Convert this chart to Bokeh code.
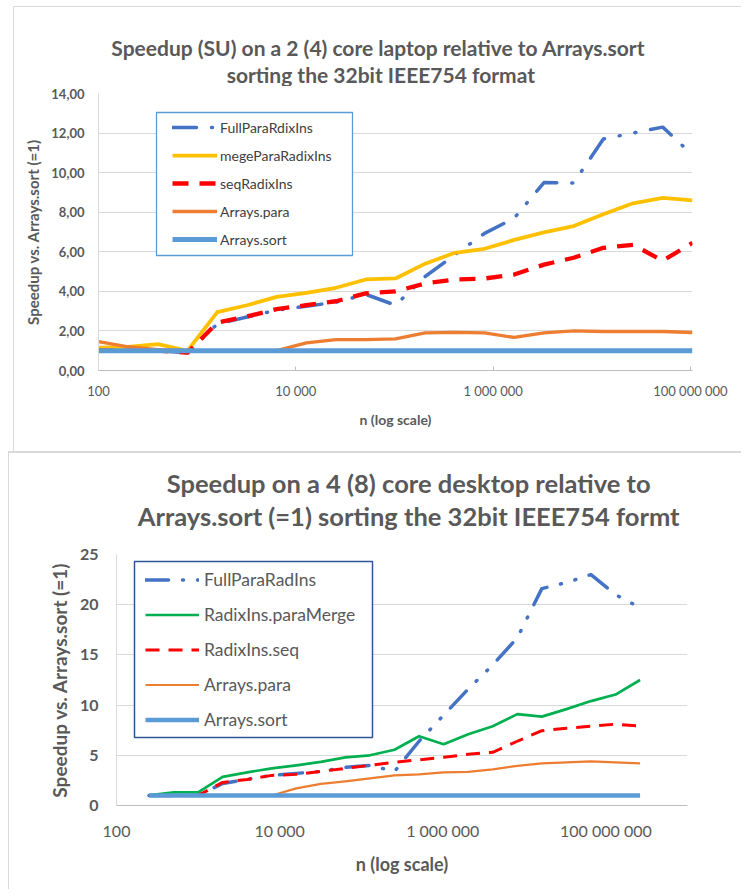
import math
from bokeh.plotting import figure
from bokeh.models import Range1d, FixedTicker, Legend, LegendItem, BoxAnnotation, Spacer
from bokeh.core.properties import value
from bokeh.layouts import column, row
from bokeh.embed import file_html
from bokeh.resources import INLINE

FONT = "Lato"
GRAY = "#595959"

# ---------------- top chart data (laptop) ----------------
n_top = [100, 200, 400, 800, 1600, 3200, 6400, 12800, 25600, 51200, 102400,
         204800, 409600, 819200, 1638400, 3276800, 6553600, 13107200,
         26214400, 52428800, 104857600]
top_full_para = [1.0, 1.0, 1.0, 0.9, 2.35, 2.7, 3.05, 3.25, 3.45, 3.85, 3.3,
                 4.75, 5.85, 6.93, 7.7, 9.5, 9.48, 11.7, 12.0, 12.3, 10.9]
top_merge_para = [1.15, 1.2, 1.33, 1.0, 2.95, 3.3, 3.72, 3.92, 4.18, 4.6, 4.65,
                  5.4, 5.95, 6.15, 6.6, 6.98, 7.3, 7.9, 8.45, 8.72, 8.6]
top_seq = [1.0, 1.0, 1.0, 0.9, 2.42, 2.73, 3.1, 3.3, 3.5, 3.9, 4.0,
           4.4, 4.6, 4.65, 4.85, 5.35, 5.7, 6.2, 6.35, 5.55, 6.45]
top_arrays_para = [1.46, 1.2, 1.05, 1.0, 1.0, 1.0, 1.0, 1.4, 1.56, 1.56, 1.6,
                   1.9, 1.93, 1.9, 1.67, 1.9, 2.0, 1.97, 1.97, 1.97, 1.92]
top_arrays_sort = [1.0, 1.0, 1.0, 1.0, 1.0, 1.0, 1.0, 1.0, 1.0, 1.0, 1.0,
                   1.0, 1.0, 1.0, 1.0, 1.0, 1.0, 1.0, 1.0, 1.0, 1.0]
top_labels = ["FullParaRdixIns", "megeParaRadixIns", "seqRadixIns",
              "Arrays.para", "Arrays.sort"]
top_title = ["Speedup (SU) on  a 2 (4) core laptop relative to Arrays.sort",
             "sorting the 32bit IEEE754 format"]
top_yticks = [0, 2, 4, 6, 8, 10, 12, 14]
top_ytick_labels = ["0,00", "2,00", "4,00", "6,00", "8,00", "10,00", "12,00", "14,00"]

# ---------------- bottom chart data (desktop) ----------------
n_bot = [250, 500, 1000, 2000, 4000, 8000, 16000, 32000, 64000, 128000,
         256000, 512000, 1024000, 2048000, 4096000, 8192000, 16384000,
         32768000, 65536000, 131072000, 262144000]
bot_full_para = [1.0, 1.0, 1.0, 2.2, 2.6, 3.0, 3.2, 3.4, 3.8, 4.0, 3.4,
                 6.4, 9.0, 11.6, 14.0, 16.7, 21.6, 22.2, 23.0, 21.0, 19.7]
bot_para_merge = [1.0, 1.3, 1.3, 2.85, 3.3, 3.7, 4.0, 4.35, 4.8, 5.0, 5.55,
                  6.9, 6.1, 7.1, 7.9, 9.1, 8.85, 9.6, 10.4, 11.05, 12.5]
bot_seq = [1.0, 1.0, 1.0, 2.3, 2.6, 3.0, 3.1, 3.4, 3.7, 4.0, 4.3,
           4.55, 4.8, 5.1, 5.3, 6.4, 7.45, 7.7, 7.9, 8.1, 7.9]
bot_arrays_para = [1.0, 1.0, 1.0, 1.0, 1.0, 1.0, 1.7, 2.15, 2.4, 2.7, 3.0,
                   3.1, 3.3, 3.35, 3.6, 3.95, 4.2, 4.3, 4.4, 4.3, 4.2]
bot_arrays_sort = [1.0, 1.0, 1.0, 1.0, 1.0, 1.0, 1.0, 1.0, 1.0, 1.0, 1.0,
                   1.0, 1.0, 1.0, 1.0, 1.0, 1.0, 1.0, 1.0, 1.0, 1.0]
bot_labels = ["FullParaRadIns", "RadixIns.paraMerge", "RadixIns.seq",
              "Arrays.para", "Arrays.sort"]
bot_title = ["Speedup on  a 4 (8) core desktop relative to",
             "Arrays.sort (=1) sorting the 32bit IEEE754  formt"]
bot_yticks = [0, 5, 10, 15, 20, 25]
bot_ytick_labels = ["0", "5", "10", "15", "20", "25"]

xticks = [100, 10000, 1000000, 100000000]
xtick_labels = ["100", "10 000", "1 000 000", "100 000 000"]


def make_title(cfg):
    W, H = cfg["title_size"]
    t = figure(width=W, height=H, x_range=Range1d(0, W), y_range=Range1d(0, H),
               min_border=0, x_axis_location=None, y_axis_location=None,
               output_backend="svg", toolbar_location=None)
    t.xgrid.visible = False
    t.ygrid.visible = False
    t.outline_line_color = None
    t.background_fill_color = "white"
    t.border_fill_color = "white"
    t.styles = cfg["title_styles"]
    cx = cfg["title_cx"]
    t.text(x=[cx, cx], y=list(cfg["title_y"]), text=cfg["title"],
           text_align="center", text_baseline="middle",
           text_font=value(FONT), text_font_size=value(cfg["title_fs"]),
           text_font_style="bold", text_color=GRAY)
    return t


def make_chart(cfg):
    W, H = cfg["size"]
    ml, mr, mt, mb = cfg["mb"]
    fw, fh = W - ml - mr, H - mt - mb
    p = figure(x_axis_type="log", x_range=Range1d(*cfg["xr"]), y_range=Range1d(*cfg["yr"]),
               width=W, height=H,
               min_border_left=ml, min_border_right=mr,
               min_border_top=mt, min_border_bottom=mb,
               output_backend="svg", toolbar_location=None)
    p.background_fill_color = "white"
    p.border_fill_color = "white"
    p.outline_line_color = None
    p.styles = cfg["styles"]

    # grid
    p.xgrid.grid_line_color = None
    p.ygrid.grid_line_color = "#D9D9D9"
    p.ygrid.grid_line_width = 1
    p.ygrid.ticker = FixedTicker(ticks=cfg["yticks"])

    # x axis
    xa = p.xaxis[0]
    xa.ticker = FixedTicker(ticks=xticks)
    xa.major_label_overrides = dict(zip(xticks, xtick_labels))
    xa.minor_tick_line_color = None
    xa.axis_line_color = "#BFBFBF"
    xa.major_tick_line_color = "#BFBFBF" if cfg["xticks_in"] else None
    xa.major_tick_in = cfg["xticks_in"]
    xa.major_tick_out = 0
    xa.major_label_text_font = FONT
    xa.major_label_text_font_size = cfg["xtick_fs"]
    xa.major_label_text_font_style = "normal"
    xa.major_label_text_color = GRAY
    xa.major_label_standoff = cfg["xlab_standoff"]
    xa.axis_label = "n (log scale)"
    xa.axis_label_text_font = FONT
    xa.axis_label_text_font_size = cfg["xtitle_fs"]
    xa.axis_label_text_font_style = "bold"
    xa.axis_label_text_color = GRAY
    xa.axis_label_standoff = cfg["xtitle_standoff"]

    # y axis
    ya = p.yaxis[0]
    ya.ticker = FixedTicker(ticks=cfg["yticks"])
    ya.major_label_overrides = dict(zip(cfg["yticks"], cfg["ytick_labels"]))
    ya.minor_tick_line_color = None
    ya.major_tick_line_color = None
    ya.major_tick_in = 0
    ya.major_tick_out = 0
    ya.axis_line_color = "#D9D9D9"
    ya.major_label_text_font = FONT
    ya.major_label_text_font_size = cfg["ytick_fs"]
    ya.major_label_text_font_style = "bold"
    ya.major_label_text_color = GRAY
    ya.major_label_standoff = cfg["ylab_standoff"]
    ya.axis_label = "Speedup vs. Arrays.sort (=1)"
    ya.axis_label_text_font = FONT
    ya.axis_label_text_font_size = cfg["ytitle_fs"]
    ya.axis_label_text_font_style = "bold"
    ya.axis_label_text_color = GRAY
    ya.axis_label_standoff = cfg["ytitle_standoff"]

    # series
    renderers = []
    for vals, st in zip(cfg["series"], cfg["styles_lines"]):
        r = p.line(cfg["n"], vals, line_color=st["color"], line_width=st["width"],
                   line_dash=st.get("dash", "solid"), line_cap=st.get("cap", "butt"),
                   line_join="round")
        renderers.append(r)

    # legend frame (box) in data coordinates derived from the frame geometry
    lx0, lx1 = math.log10(cfg["xr"][0]), math.log10(cfg["xr"][1])
    def px_x(dx):
        return 10 ** (lx0 + dx / fw * (lx1 - lx0))
    def px_y(dy):
        return cfg["yr"][0] + dy / fh * (cfg["yr"][1] - cfg["yr"][0])
    bx0, bx1, by0, by1 = cfg["legend_box"]
    box = BoxAnnotation(left=px_x(bx0), right=px_x(bx1), bottom=px_y(by0), top=px_y(by1),
                        fill_color="white", fill_alpha=1.0,
                        line_color=cfg["legend_border"], line_width=cfg["legend_border_w"],
                        line_alpha=1.0)
    p.add_layout(box)

    items = [LegendItem(label=l, renderers=[r]) for l, r in zip(cfg["labels"], renderers)]
    lg = Legend(items=items, location=cfg["legend_loc"], margin=0, padding=0, spacing=0,
                glyph_width=cfg["glyph_w"], glyph_height=cfg["row_h"], label_height=cfg["row_h"],
                label_standoff=cfg["label_standoff"],
                border_line_color=None, background_fill_alpha=0.0,
                label_text_font=FONT, label_text_font_size=cfg["legend_fs"],
                label_text_color=cfg["legend_color"])
    p.add_layout(lg)
    return p


top_cfg = dict(
    n=n_top, xr=(100, 1.05e8), yr=(0, 14), size=(728, 365), mb=(84, 50, 7, 81),
    styles={"border-left": "1px solid #D9D9D9"},
    title=top_title, title_size=(728, 80), title_cx=346, title_y=(40, 13.5), title_fs="21px",
    title_styles={"border-top": "1px solid #D9D9D9", "border-left": "1px solid #D9D9D9"},
    yticks=top_yticks, ytick_labels=top_ytick_labels,
    xticks_in=4, xtick_fs="13px", xlab_standoff=12, xtitle_fs="14px", xtitle_standoff=9,
    ytick_fs="13px", ylab_standoff=14, ytitle_fs="15px", ytitle_standoff=6,
    series=[top_full_para, top_merge_para, top_seq, top_arrays_para, top_arrays_sort],
    styles_lines=[
        dict(color="#4472C4", width=3.5, dash="24 15 1 15 1 15", cap="round"),
        dict(color="#FFC000", width=3.75),
        dict(color="#FF0000", width=4.3, dash="16 11"),
        dict(color="#ED7D31", width=3.3),
        dict(color="#5B9BD5", width=5),
    ],
    labels=top_labels,
    legend_box=(58, 254, 115, 258), legend_border="#5B9BD5", legend_border_w=1.3,
    legend_loc=(74, 117), glyph_w=45, row_h=28, label_standoff=3,
    legend_fs="14px", legend_color="#404040",
)

bot_cfg = dict(
    n=n_bot, xr=(100, 1e9), yr=(0, 25), size=(733, 353), mb=(107, 55, 18, 84),
    styles={"border-left": "1px solid #D9D9D9"},
    title=bot_title, title_size=(733, 85), title_cx=379, title_y=(56, 23), title_fs="25.5px",
    title_styles={"border-top": "2px solid #D9D9D9", "border-left": "1px solid #D9D9D9"},
    yticks=bot_yticks, ytick_labels=bot_ytick_labels,
    xticks_in=0, xtick_fs="16px", xlab_standoff=15, xtitle_fs="18px", xtitle_standoff=10,
    ytick_fs="16px", ylab_standoff=18, ytitle_fs="19px", ytitle_standoff=6,
    series=[bot_full_para, bot_para_merge, bot_seq, bot_arrays_para, bot_arrays_sort],
    styles_lines=[
        dict(color="#4472C4", width=3.5, dash="23 14 1 14 1 14", cap="round"),
        dict(color="#00B050", width=2.7),
        dict(color="#FF0000", width=3, dash="14 9"),
        dict(color="#ED7D31", width=2.2),
        dict(color="#5B9BD5", width=4.5),
    ],
    labels=bot_labels,
    legend_box=(18, 256, 68, 244), legend_border="#2F5597", legend_border_w=1.5,
    legend_loc=(29, 68), glyph_w=54, row_h=35, label_standoff=5,
    legend_fs="17.5px", legend_color=GRAY,
)

t1 = make_title(top_cfg)
p1 = make_chart(top_cfg)
t2 = make_title(bot_cfg)
p2 = make_chart(bot_cfg)

layout = column(
    Spacer(width=10, height=6),
    row(Spacer(width=13, height=10), column(t1, p1, spacing=0), spacing=0),
    row(Spacer(width=8, height=10), column(t2, p2, spacing=0), spacing=0),
    spacing=0,
)

open("out.html", "w").write(file_html(layout, INLINE))
